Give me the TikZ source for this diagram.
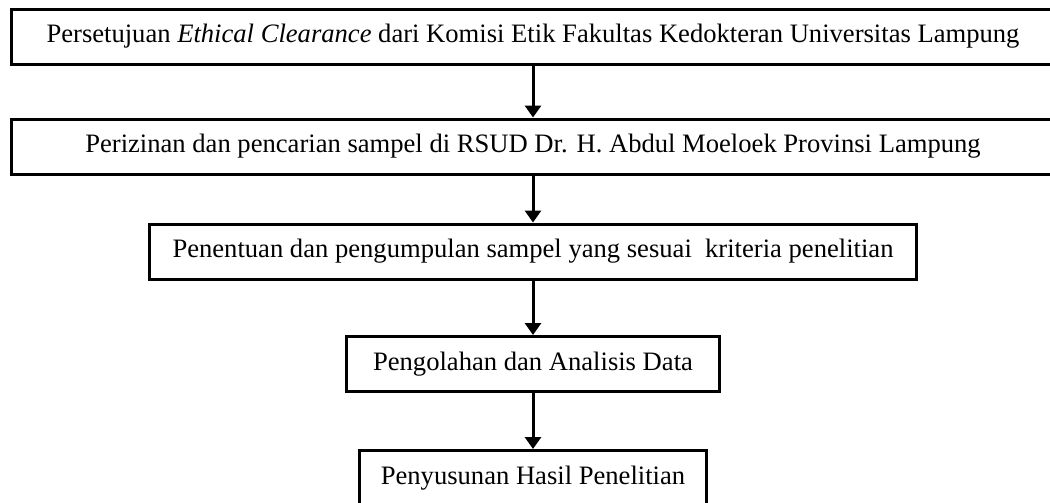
\documentclass[tikz,border=0pt]{standalone}
\usepackage{fontspec}
\setmainfont{Liberation Serif}
\usetikzlibrary{positioning,arrows.meta}
\tikzset{kotak/.style={draw,line width=1.5pt,minimum height=27.5pt,inner sep=0pt,align=center}}
\begin{document}
\begin{tikzpicture}[>={Triangle[length=6pt,width=8pt]},font=\fontsize{13.3}{16}\selectfont]
	\useasboundingbox (0,0) rectangle (525pt,-251.5pt);
	\node[kotak,minimum width=522pt] (etik) at (266.5pt,-18.25pt) {Persetujuan \textit{Ethical Clearance} dari Komisi Etik Fakultas Kedokteran Universitas Lampung};
	\node[kotak,minimum width=522pt,below=26pt of etik] (izin) {Perizinan dan pencarian sampel di RSUD Dr. H. Abdul Moeloek Provinsi Lampung};
	\node[kotak,minimum width=383.5pt,below=23.5pt of izin] (sampel) {Penentuan dan pengumpulan sampel yang sesuai\ \ kriteria penelitian};
	\node[kotak,minimum width=186.5pt,below=27.25pt of sampel] (olah) {Pengolahan dan Analisis Data};
	\node[kotak,minimum width=173.5pt,below=28pt of olah] (hasil) {Penyusunan Hasil Penelitian};
	\draw[->,line width=1.5pt] (etik.south)--(izin.north);
	\draw[->,line width=1.5pt] (izin.south)--(sampel.north);
	\draw[->,line width=1.5pt] (sampel.south)--(olah.north);
	\draw[->,line width=1.5pt] (olah.south)--(hasil.north);
\end{tikzpicture}
\end{document}
